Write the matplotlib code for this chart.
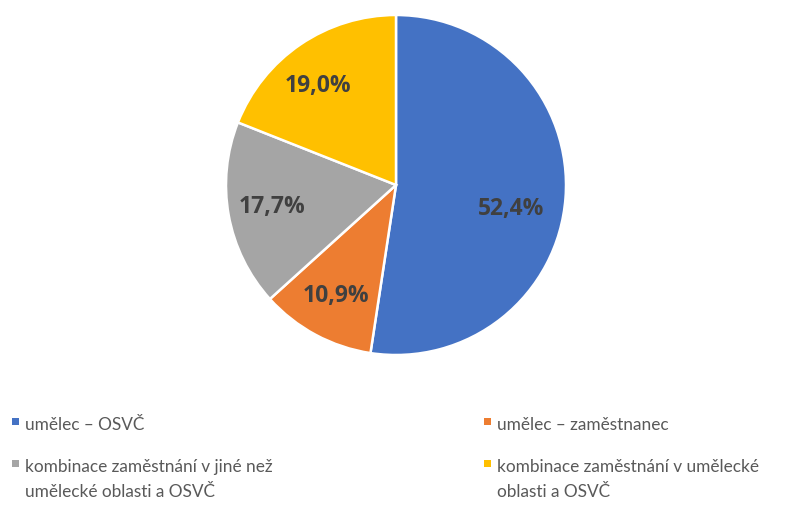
import matplotlib
matplotlib.use("Agg")
import matplotlib.pyplot as plt
from matplotlib.patches import Rectangle

categories = [
    "umělec – OSVČ",
    "umělec – zaměstnanec",
    "kombinace zaměstnání v jiné než\numělecké oblasti a OSVČ",
    "kombinace zaměstnání v umělecké\noblasti a OSVČ",
]
values = [52.4, 10.9, 17.7, 19.0]
colors = ["#4472C4", "#ED7D31", "#A5A5A5", "#FFC000"]

W, H = 805, 507
fig = plt.figure(figsize=(W / 100, H / 100), dpi=100)
plt.rcParams['font.family'] = ['Lato', 'DejaVu Sans']

# pie axes: centre (396,185), radius 170 px
cx, cy, r = 396, 185, 170
ax = fig.add_axes([(cx - r) / W, (H - cy - r) / H, 2 * r / W, 2 * r / H])
wedges, texts, autotexts = ax.pie(
    values, colors=colors, startangle=90, counterclock=False,
    autopct=lambda p: f"{p:.1f}%".replace(".", ","), pctdistance=0.74,
    wedgeprops=dict(edgecolor="white", linewidth=1.8),
    textprops=dict(fontsize=16.5, fontweight="bold", color="#404040",
                   family=["Open Sans", "DejaVu Sans"]),
    radius=1.0,
)
# Excel-like nudges of label placement
autotexts[0].set_position((0.675, -0.14))
autotexts[3].set_position((-0.46, 0.58))
ax.set_xlim(-1, 1)
ax.set_ylim(-1, 1)
ax.set_aspect("equal")
ax.axis("off")

# manual legend (two columns)
col_x = [12, 484]
row_base = [430, 472]
fs = 12.4
for i, (lab, col) in enumerate(zip(categories, colors)):
    cxi = col_x[i % 2]
    yb = row_base[i // 2]
    fig.add_artist(Rectangle(((cxi) / W, (H - yb + 5) / H), 7 / W, 7 / H,
                             transform=fig.transFigure, color=col, lw=0))
    lines = lab.split("\n")
    for j, ln in enumerate(lines):
        fig.text((cxi + 13) / W, (H - yb - 25 * j) / H, ln, fontsize=fs,
                 color="#595959", va="baseline", ha="left")

fig.savefig("out.png", dpi=100, facecolor="white")
